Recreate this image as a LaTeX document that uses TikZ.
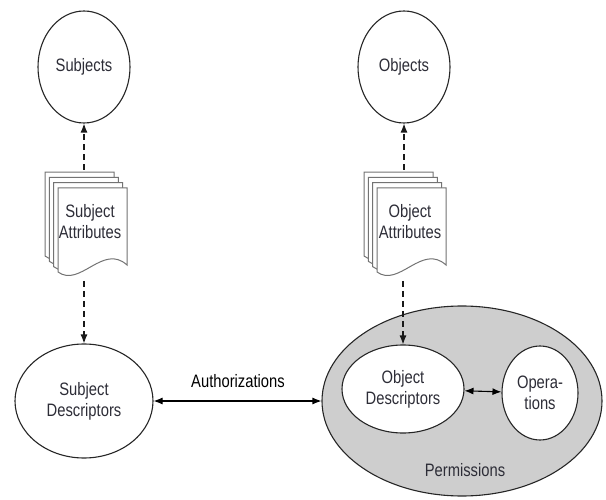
\documentclass[tikz,border=0pt]{standalone}
\usepackage{fontspec}
\setmainfont{Liberation Sans}[FakeStretch=0.82]
\usetikzlibrary{shapes.geometric,arrows.meta}
\definecolor{permgray}{RGB}{206,206,206}
\definecolor{txt}{RGB}{45,45,55}
\tikzset{
  oval/.style={ellipse, draw=black!85, line width=1.1pt, fill=white, inner sep=0pt, align=center,
    font=\fontsize{18}{21}\selectfont, text=txt},
  lbl/.style={inner sep=0pt, align=center, font=\fontsize{18}{21}\selectfont, text=txt},
  dasharrow/.style={draw=black!90, line width=1.1pt, dash pattern=on 6pt off 4pt, -{Latex[length=9pt,width=7pt]}},
  biarrow/.style={draw=black, line width=1.1pt, {Latex[length=9pt,width=7pt]}-{Latex[length=9pt,width=7pt]}},
  sheet/.style={draw=black!55, line width=1pt, fill=white},
}
\newcommand\docstack[2]{%
  \foreach \k in {3,2,1,0}{%
    \draw[sheet] ({#1-4.3*\k},{#2-5.3*\k}) -- ++(69,0) -- ++(0,77)
      .. controls +(-24,-22) and +(22,16) .. ++(-69,7) -- cycle;
  }%
}
\begin{document}
\begin{tikzpicture}[x=1pt,y=-1pt]
\useasboundingbox (0,0) rectangle (606,500);
% top ovals
\node[oval, minimum width=92pt, minimum height=112pt] (subj) at (84,67) {Subjects};
\node[oval, minimum width=92pt, minimum height=112pt] (obj) at (404,67) {Objects};
% document stacks
\docstack{58}{188}
\docstack{377}{188}
\node[lbl] (sattr) at (90,222) {Subject\\Attributes};
\node[lbl] (oattr) at (410,222) {Object\\Attributes};
\coordinate (sTop) at (84,170);
\coordinate (sBot) at (84,281);
\coordinate (oTop) at (404,170);
\coordinate (oBot) at (403,281);
% bottom
\node[oval, minimum width=138pt, minimum height=114pt] (sd) at (84,401) {Subject\\Descriptors};
\node[ellipse, draw=black!85, line width=1.1pt, fill=permgray, inner sep=0pt,
      minimum width=280pt, minimum height=190pt] (perm) at (462,401) {};
\node[oval, minimum width=122pt, minimum height=88pt] (od) at (403,389) {Object\\Descriptors};
\node[oval, minimum width=76pt, minimum height=94pt] (ops) at (540,393) {Opera-\\tions};
\node[lbl] (permlbl) at (465,470) {Permissions};
\node[lbl, text=black] (authlbl) at (238,381) {Authorizations};
% connectors
\draw[dasharrow] (sTop) -- (subj);
\draw[dasharrow] (oTop) -- (obj);
\draw[dasharrow] (sBot) -- (sd);
\draw[dasharrow] (oBot) -- (od);
\draw[biarrow] (sd) -- (perm);
\draw[biarrow] (od) -- (ops);
\end{tikzpicture}
\end{document}
